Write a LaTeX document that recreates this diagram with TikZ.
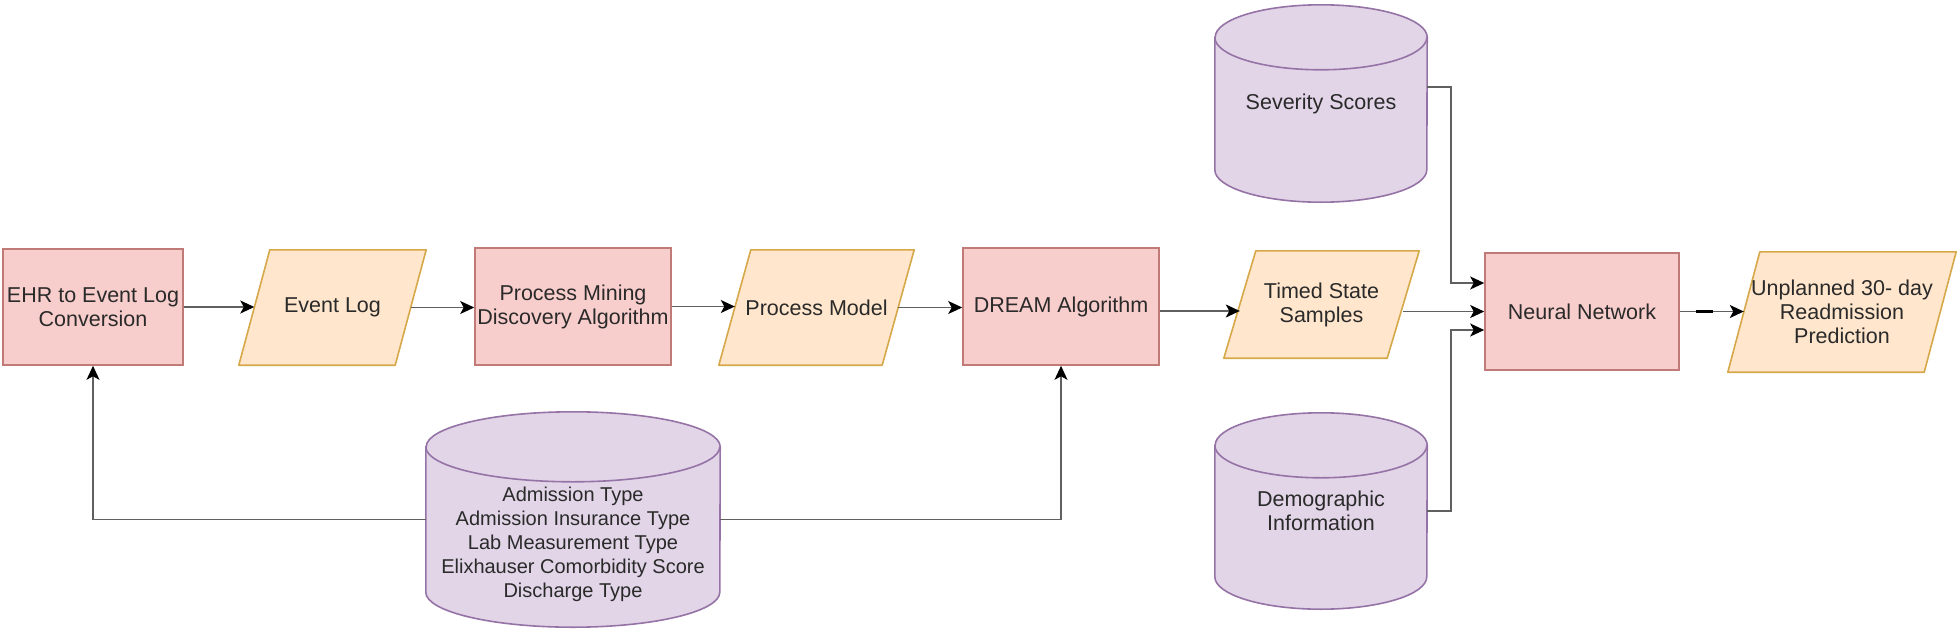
\documentclass[tikz,border=0pt]{standalone}
\usepackage{fontspec}
\setmainfont{Liberation Sans}
\usetikzlibrary{arrows.meta,calc,backgrounds}
\definecolor{rfill}{HTML}{F8CECC}
\definecolor{rline}{HTML}{C07A78}
\definecolor{ofill}{HTML}{FFE6CC}
\definecolor{oline}{HTML}{D6A84A}
\definecolor{pfill}{HTML}{E1D5E7}
\definecolor{pline}{HTML}{9673A6}
\definecolor{lgray}{HTML}{606060}
\definecolor{txt}{HTML}{2A2A2A}
\tikzset{
  base/.style={inner sep=0pt, align=center, text=txt, font=\fontsize{21.5}{24}\selectfont},
  procbox/.style={base, rectangle, draw=rline, fill=rfill, line width=1.6pt},
  paranode/.style={base, rectangle},
  cylnode/.style={base, rectangle},
  parashape/.style={draw=oline, fill=ofill, line width=1.6pt, line join=round},
  cylshape/.style={draw=pline, fill=pfill, line width=1.6pt},
  conn/.style={draw=lgray, line width=1.5pt, -{Stealth[length=14pt,width=13pt,inset=3.5pt,color=black]}},
}
\newcommand\drawpara[2]{%
  \path[parashape] ($(#1.south west)+(-#2,0)$) -- ($(#1.south east)+(-#2,0)$) -- ($(#1.north east)+(#2,0)$) -- ($(#1.north west)+(#2,0)$) -- cycle;}
\newcommand\drawcyl[3]{%
  \path[cylshape] ($(#1.north west)+(0,-#3)$) -- ($(#1.south west)+(0,#3)$) arc[start angle=180,end angle=360,x radius=#2pt,y radius=#3pt] -- ($(#1.north east)+(0,-#3)$) arc[start angle=0,end angle=180,x radius=#2pt,y radius=#3pt] -- cycle;
  \draw[cylshape, fill=none] ($(#1.north west)+(0,-#3)$) arc[start angle=180,end angle=360,x radius=#2pt,y radius=#3pt];}
\begin{document}
\begin{tikzpicture}[x=1pt,y=1pt]
\useasboundingbox (0,0) rectangle (1960,-632);
% nodes
\node[procbox, minimum width=180pt, minimum height=116pt] (ehr) at (93,-307) {EHR to Event Log\\Conversion};
\node[paranode, minimum width=156pt, minimum height=115pt] (evlog) at (332.5,-307.5) {Event Log};
\node[procbox, minimum width=196pt, minimum height=117pt] (pm) at (573,-306.5) {Process Mining\\Discovery Algorithm};
\node[paranode, minimum width=163pt, minimum height=115pt] (pmodel) at (816.5,-307.5) {Process Model};
\node[procbox, minimum width=196pt, minimum height=117pt] (dream) at (1061,-306.5) {DREAM Algorithm};
\node[paranode, minimum width=163pt, minimum height=107pt] (ts) at (1321.5,-304.5) {Timed State\\Samples};
\node[procbox, minimum width=194pt, minimum height=117pt] (nn) at (1582,-311.5) {Neural Network};
\node[paranode, minimum width=196pt, minimum height=120pt] (unp) at (1842,-312) {Unplanned 30- day\\Readmission\\Prediction};
\node[cylnode, minimum width=212pt, minimum height=197pt] (sev) at (1321,-103.5) {Severity Scores};
\node[cylnode, minimum width=212pt, minimum height=196pt] (dem) at (1321,-511) {Demographic\\Information};
\node[cylnode, minimum width=294pt, minimum height=215pt] (adm) at (573,-519.5) {};
\node[base, font=\fontsize{20}{24}\selectfont] (admtext) at (573,-544) {Admission Type\\Admission Insurance Type\\Lab Measurement Type\\Elixhauser Comorbidity Score\\Discharge Type};
% shapes behind
\begin{pgfonlayer}{background}
\fill[white] (0,0) rectangle (1960,-632);
\drawpara{evlog}{15.5}
\drawpara{pmodel}{16}
\drawpara{ts}{16}
\drawpara{unp}{16}
\drawcyl{sev}{106}{32.5}
\drawcyl{dem}{106}{32.5}
\drawcyl{adm}{147}{35}
\end{pgfonlayer}
% connectors
\draw[conn] (ehr.east) -- (ehr.east -| evlog.west);
\draw[conn] (evlog.east) -- (evlog.east -| pm.west);
\draw[conn] (pm.east) -- (pm.east -| pmodel.west);
\draw[conn] (pmodel.east) -- (pmodel.east -| dream.west);
\draw[conn] ([yshift=-4.5pt]dream.east) -- ([yshift=-4.5pt]dream.east -| ts.west);
\draw[conn] (ts.east |- nn.west) -- (nn.west);
\draw[conn] (nn.east) -- (nn.east -| unp.west);
\draw[black, line width=2.5pt] ([xshift=16pt]nn.east) -- ++(17pt,0);
\draw[conn] ([yshift=16.5pt]sev.east) -- ++(24pt,0) |- ([yshift=28.5pt]nn.west);
\draw[conn] (dem.east) -- ++(24pt,0) |- ([yshift=-18.5pt]nn.west);
\draw[conn] (adm.west) -| (ehr.south);
\draw[conn] (adm.east) -| (dream.south);
\end{tikzpicture}
\end{document}
